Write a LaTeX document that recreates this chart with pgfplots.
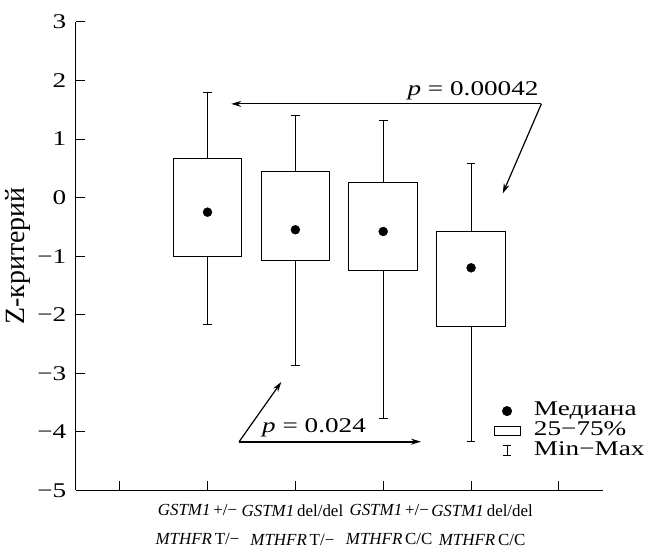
\documentclass[border=0pt]{standalone}
\usepackage{fontspec}
\setmainfont{Liberation Serif}[FakeStretch=1.3]
\newfontfamily\ylabfont{Liberation Serif}
\usepackage{pgfplots}
\pgfplotsset{compat=1.18}
\usepgfplotslibrary{statistics}
\usetikzlibrary{arrows.meta}
\begin{document}
\begin{tikzpicture}[font=\fontsize{21}{25}\selectfont]
\begin{axis}[
  scale only axis, width=529pt, height=470pt,
  xmin=-0.5, xmax=5.5, ymin=-5, ymax=3,
  axis x line*=bottom, axis y line*=left,
  axis line style={line width=1pt},
  tick align=inside, major tick length=9pt,
  tick style={line width=1pt, black},
  xtick={0,1,2,3,4,5},
  xticklabels={},
  extra x ticks={0.886,1.966,3.068,4.125},
  extra x tick labels={{\textit{GSTM1}\,+/−\\\textit{MTHFR}\,T/−},{\textit{GSTM1}\,del/del\\\textit{MTHFR}\,T/−},{\textit{GSTM1}\,+/−\\\textit{MTHFR}\,C/C},{\textit{GSTM1}\,del/del\\\textit{MTHFR}\,C/C}},
  extra x tick style={major tick length=0pt, tick style={draw=none}},
  xticklabel style={align=center, font=\ylabfont\fontsize{17}{29}\selectfont, yshift=-11pt},
  ytick={-5,-4,-3,-2,-1,0,1,2,3},
  yticklabels={−5,−4,−3,−2,−1,0,1,2,3},
  yticklabel style={xshift=-6pt},
  ylabel={Z-критерий},
  ylabel style={at={(axis description cs:-0.11,0.5)}, anchor=center, font=\ylabfont\fontsize{28}{32}\selectfont},
  boxplot/draw direction=y,
  boxplot/draw/median/.code={},
  legend style={at={(axis cs:4.22,-3.44)}, anchor=north west, draw=none, fill=none,
    nodes={inner sep=0.5pt, text height=14pt, text depth=5pt}, row sep=0pt,
    /tikz/every odd column/.append style={column sep=13pt}},
  legend cell align=left,
]
\coordinate (O) at (rel axis cs:0,0);
\addplot[black, line width=1pt, forget plot, boxplot prepared={draw position=1, median=-0.25, upper quartile=0.67, lower quartile=-1.0, upper whisker=1.79, lower whisker=-2.17, box extend=0.78, whisker extend=0.1}] coordinates {};
\addplot[black, line width=1pt, forget plot, boxplot prepared={draw position=2, median=-0.55, upper quartile=0.45, lower quartile=-1.07, upper whisker=1.40, lower whisker=-2.87, box extend=0.78, whisker extend=0.1}] coordinates {};
\addplot[black, line width=1pt, forget plot, boxplot prepared={draw position=3, median=-0.58, upper quartile=0.25, lower quartile=-1.25, upper whisker=1.32, lower whisker=-3.78, box extend=0.78, whisker extend=0.1}] coordinates {};
\addplot[black, line width=1pt, forget plot, boxplot prepared={draw position=4, median=-1.2, upper quartile=-0.58, lower quartile=-2.2, upper whisker=0.58, lower whisker=-4.17, box extend=0.78, whisker extend=0.1}] coordinates {};
\addplot[only marks, mark=*, mark size=4.5pt, black, forget plot] coordinates {(1,-0.25) (2,-0.55) (3,-0.58) (4,-1.2)};
\addlegendimage{legend image code/.code={\fill[black] (13pt,0pt) circle (4.8pt);}}
\addlegendentry{Медиана}
\addlegendimage{legend image code/.code={\draw[black, line width=1pt] (0pt,-4.5pt) rectangle (26pt,4.5pt);}}
\addlegendentry{25−75\%}
\addlegendimage{legend image code/.code={\draw[black, line width=1pt] (13pt,-5pt)--(13pt,5pt) (9pt,5pt)--(17pt,5pt) (9pt,-5pt)--(17pt,-5pt);}}
\addlegendentry{Min−Max}
\draw[line width=1.2pt, -{Stealth[length=10pt,width=6pt]}] (axis cs:4.8,1.6) -- (axis cs:1.27,1.6);
\draw[line width=1.2pt, -{Stealth[length=10pt,width=6pt]}] (axis cs:4.8,1.6) -- (axis cs:4.36,0.07);
\draw[line width=1.8pt, -{Stealth[length=10pt,width=6pt]}] (axis cs:1.36,-4.17) -- (axis cs:3.43,-4.17);
\draw[line width=1.2pt, -{Stealth[length=10pt,width=6pt]}] (axis cs:1.36,-4.17) -- (axis cs:1.84,-3.15);
\node[anchor=base east, inner sep=0pt] at (axis cs:4.77,1.75) {\textit{p} = 0.00042};
\node[anchor=base west, inner sep=0pt] at (axis cs:1.62,-4.02) {\textit{p} = 0.024};
\end{axis}
\path (O) ++(-76pt,-56pt) rectangle ++(648pt,548pt);
\end{tikzpicture}
\end{document}
